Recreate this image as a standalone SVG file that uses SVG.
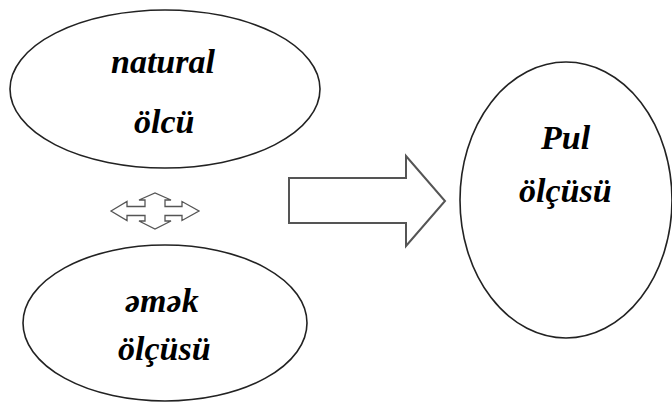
<svg xmlns="http://www.w3.org/2000/svg" width="672" height="404" viewBox="0 0 672 404">
  <style>
    .node { fill: #ffffff; stroke: #222222; stroke-width: 1.6; }
    .arrow { fill: #ffffff; stroke: #555555; stroke-linejoin: miter; }
  </style>
  <rect width="672" height="404" fill="#ffffff"/>

  <g id="natural-olcu">
    <ellipse class="node" cx="165" cy="89" rx="155" ry="79"/>
    <text x="111" y="73" font-family="Liberation Serif" font-weight="bold" font-style="italic" font-size="34">natural</text>
    <text x="134" y="133" font-family="Liberation Serif" font-weight="bold" font-style="italic" font-size="34">ölcü</text>
  </g>

  <g id="emek-olcusu">
    <ellipse class="node" cx="165" cy="323" rx="142" ry="78"/>
    <text x="125" y="312" font-family="Liberation Serif" font-weight="bold" font-style="italic" font-size="34">əmək</text>
    <text x="118" y="360" font-family="Liberation Serif" font-weight="bold" font-style="italic" font-size="34">ölçüsü</text>
  </g>

  <g id="pul-olcusu">
    <ellipse class="node" cx="566" cy="200" rx="106" ry="138"/>
    <text x="541" y="149" font-family="Liberation Serif" font-weight="bold" font-style="italic" font-size="34">Pul</text>
    <text x="519" y="202" font-family="Liberation Serif" font-weight="bold" font-style="italic" font-size="34">ölçüsü</text>
  </g>

  <g id="connectors">
    <!-- four-way arrow between the two left measures -->
    <path class="arrow" stroke-width="1.3" d="M111,211 L127,201.5 L127,206.5 L145,206.5 L145,200 L139,200 L155,193 L171,200 L165,200 L165,206.5 L182,206.5 L182,201.5 L199,211 L182,220.5 L182,215.5 L165,215.5 L165,221 L171,221 L155,229 L139,221 L145,221 L145,215.5 L127,215.5 L127,220.5 Z"/>
    <!-- block arrow towards money measure -->
    <path class="arrow" stroke-width="2" d="M289,178 L406,178 L406,156 L445,201 L406,246 L406,223 L289,223 Z"/>
  </g>
</svg>
